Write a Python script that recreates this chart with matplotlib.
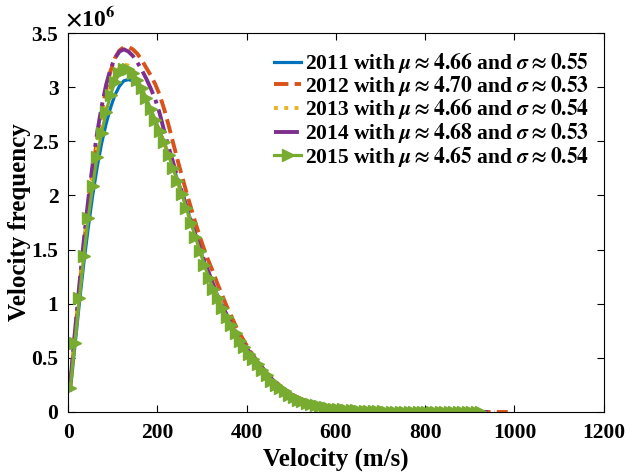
import numpy as np
import matplotlib
matplotlib.use('Agg')
from matplotlib import pyplot as plt
from matplotlib.ticker import FormatStrFormatter

# velocity frequency (x 10^6), sampled every 10 m/s starting at 5 m/s
freq_2011 = [0.20, 0.60, 1.00, 1.37, 1.70, 2.00, 2.26, 2.48, 2.66, 2.81,
             2.93, 3.01, 3.06, 3.07, 3.06, 3.02, 2.96, 2.88, 2.79, 2.69,
             2.59, 2.49, 2.38, 2.27, 2.15, 2.03, 1.90, 1.77, 1.64, 1.51,
             1.39, 1.28, 1.17, 1.08, 0.99, 0.90, 0.82, 0.75, 0.68, 0.62,
             0.56, 0.51, 0.46, 0.41, 0.36, 0.31, 0.27, 0.235, 0.205, 0.175,
             0.15, 0.13, 0.11, 0.095, 0.08, 0.068, 0.058, 0.049, 0.042, 0.035,
             0.029, 0.024, 0.020, 0.017, 0.014, 0.012, 0.010, 0.0085, 0.0072, 0.006,
             0.005, 0.0042, 0.0035, 0.003, 0.0025, 0.0021, 0.0018, 0.0015, 0.0013, 0.0011,
             0.0009, 0.0008, 0.0007, 0.0006, 0.0005, 0.0004, 0.00035, 0.0003, 0.00025, 0.0002,
             0.00017, 0.00015]
freq_2012 = [0.25, 0.70, 1.13, 1.53, 1.90, 2.23, 2.52, 2.77, 2.98, 3.15,
             3.27, 3.34, 3.37, 3.37, 3.35, 3.31, 3.25, 3.18, 3.11, 3.03,
             2.93, 2.80, 2.65, 2.49, 2.33, 2.18, 2.03, 1.89, 1.75, 1.62,
             1.50, 1.39, 1.29, 1.18, 1.08, 0.98, 0.89, 0.80, 0.72, 0.65,
             0.58, 0.52, 0.46, 0.41, 0.36, 0.32, 0.28, 0.24, 0.21, 0.18,
             0.155, 0.135, 0.115, 0.10, 0.085, 0.073, 0.063, 0.054, 0.046, 0.039,
             0.033, 0.028, 0.024, 0.020, 0.017, 0.014, 0.012, 0.010, 0.0085, 0.0072,
             0.006, 0.005, 0.0042, 0.0035, 0.003, 0.0025, 0.0021, 0.0018, 0.0015, 0.0013,
             0.0011, 0.0009, 0.0008, 0.0007, 0.0006, 0.0005, 0.0004, 0.00035, 0.0003, 0.00025,
             0.0002, 0.00017, 0.00015, 0.00013, 0.00011, 0.0001, 0.00009, 0.00008, 0.00007]
freq_2013 = [0.24, 0.68, 1.10, 1.50, 1.86, 2.17, 2.44, 2.67, 2.86, 3.00,
             3.11, 3.18, 3.21, 3.20, 3.16, 3.09, 3.00, 2.91, 2.81, 2.70,
             2.60, 2.49, 2.37, 2.25, 2.13, 2.01, 1.88, 1.75, 1.62, 1.49,
             1.37, 1.25, 1.15, 1.06, 0.97, 0.89, 0.81, 0.74, 0.67, 0.61,
             0.55, 0.50, 0.45, 0.40, 0.35, 0.30, 0.26, 0.23, 0.20, 0.17,
             0.14, 0.12, 0.105, 0.09, 0.077, 0.065, 0.055, 0.047, 0.04, 0.034,
             0.028, 0.024, 0.020, 0.017, 0.014, 0.012, 0.010, 0.0085, 0.0072, 0.006,
             0.005, 0.0042, 0.0035, 0.003, 0.0025, 0.0021, 0.0018, 0.0015, 0.0013, 0.0011,
             0.0009, 0.0008, 0.0007, 0.0006, 0.0005, 0.0004, 0.00035, 0.0003, 0.00025, 0.0002,
             0.00017, 0.00015, 0.00012, 0.0001]
freq_2014 = [0.27, 0.73, 1.17, 1.58, 1.96, 2.29, 2.58, 2.82, 3.02, 3.17,
             3.27, 3.33, 3.35, 3.33, 3.29, 3.23, 3.16, 3.08, 2.99, 2.89,
             2.76, 2.60, 2.45, 2.31, 2.17, 2.03, 1.90, 1.77, 1.64, 1.52,
             1.40, 1.29, 1.18, 1.08, 0.99, 0.90, 0.82, 0.75, 0.68, 0.62,
             0.56, 0.51, 0.46, 0.41, 0.36, 0.31, 0.27, 0.235, 0.205, 0.175,
             0.15, 0.13, 0.11, 0.095, 0.08, 0.068, 0.058, 0.049, 0.042, 0.035,
             0.029, 0.024, 0.020, 0.017, 0.014, 0.012, 0.010, 0.0085, 0.0072, 0.006,
             0.005, 0.0042, 0.0035, 0.003, 0.0025, 0.0021, 0.0018, 0.0015, 0.0013, 0.0011,
             0.0009, 0.0008, 0.0007, 0.0006, 0.0005, 0.0004, 0.00035, 0.0003, 0.00025, 0.0002,
             0.00017, 0.00015, 0.00012, 0.0001, 0.00009, 0.00008]
freq_2015 = [0.22, 0.64, 1.05, 1.44, 1.79, 2.09, 2.36, 2.58, 2.77, 2.93,
             3.05, 3.13, 3.17, 3.17, 3.13, 3.07, 2.99, 2.90, 2.80, 2.70,
             2.60, 2.49, 2.37, 2.25, 2.13, 2.01, 1.88, 1.75, 1.62, 1.49,
             1.36, 1.24, 1.14, 1.05, 0.96, 0.88, 0.80, 0.73, 0.66, 0.60,
             0.54, 0.49, 0.44, 0.39, 0.34, 0.29, 0.25, 0.22, 0.19, 0.16,
             0.135, 0.115, 0.10, 0.085, 0.073, 0.062, 0.053, 0.045, 0.038, 0.032,
             0.027, 0.023, 0.019, 0.016, 0.014, 0.012, 0.010, 0.0085, 0.0072, 0.006,
             0.005, 0.0042, 0.0035, 0.003, 0.0025, 0.0021, 0.0018, 0.0015, 0.0013, 0.0011,
             0.0009, 0.0008, 0.0007, 0.0006, 0.0005, 0.0004, 0.00035, 0.0003, 0.00025, 0.0002,
             0.00017, 0.00015, 0.00012]

labels = [r'2011 with $\mu \approx \mathbf{4.66}$ and $\sigma \approx \mathbf{0.55}$',
          r'2012 with $\mu \approx \mathbf{4.70}$ and $\sigma \approx \mathbf{0.53}$',
          r'2013 with $\mu \approx \mathbf{4.66}$ and $\sigma \approx \mathbf{0.54}$',
          r'2014 with $\mu \approx \mathbf{4.68}$ and $\sigma \approx \mathbf{0.53}$',
          r'2015 with $\mu \approx \mathbf{4.65}$ and $\sigma \approx \mathbf{0.54}$']

start_speed = 5
step_speed = 10


def speeds(vals):
    return start_speed + step_speed * np.arange(len(vals))


plt.rcParams['font.family'] = 'Liberation Serif'
plt.rcParams['font.weight'] = 'bold'
plt.rcParams['mathtext.fontset'] = 'stix'

fig = plt.figure(figsize=(6.25, 4.73), dpi=100)
ax = fig.add_axes([0.109, 0.129, 0.857, 0.801])

ax.plot(speeds(freq_2011), freq_2011, '-', color='#0072BD', lw=2.3, label=labels[0])
ax.plot(speeds(freq_2012), freq_2012, '--', color='#D95319', lw=2.8, label=labels[1])
ax.plot(speeds(freq_2013), freq_2013, ':', color='#EDB120', lw=2.8, label=labels[2])
ax.plot(speeds(freq_2014), freq_2014, '-.', color='#7E2F8E', lw=2.8, label=labels[3])
ax.plot(speeds(freq_2015), freq_2015, '-', color='#77AC30', lw=2.3,
        marker='>', markersize=8.5, label=labels[4])

ax.set_xlim(0, 1200)
ax.set_ylim(0, 3.5)
ax.set_xticks(np.arange(0, 1201, 200))
ax.set_yticks(np.arange(0, 3.51, 0.5))
ax.yaxis.set_major_formatter(FormatStrFormatter('%g'))
ax.tick_params(direction='in', top=True, right=True, length=5, width=0.8,
               labelsize=15.5)
ax.tick_params(axis='x', pad=8)
ax.tick_params(axis='y', pad=7)
for lab in ax.get_xticklabels() + ax.get_yticklabels():
    lab.set_fontweight('bold')
for sp in ax.spines.values():
    sp.set_linewidth(0.8)

ax.set_xlabel('Velocity (m/s)', fontsize=18, fontweight='bold', labelpad=3)
ax.set_ylabel('Velocity frequency', fontsize=18, fontweight='bold', labelpad=0)
ax.text(-0.005, 1.003, r'$\times$10$^{\mathbf{6}}$', transform=ax.transAxes,
        fontsize=17, fontweight='bold', ha='left', va='bottom')

leg = ax.legend(loc='upper right', bbox_to_anchor=(1.0, 0.995), frameon=False,
                fontsize=15.5, handlelength=1.25, handletextpad=0.15,
                labelspacing=-0.06, borderaxespad=0.3)
for t in leg.get_texts():
    t.set_fontweight('bold')

fig.savefig('out.png', dpi=100)
